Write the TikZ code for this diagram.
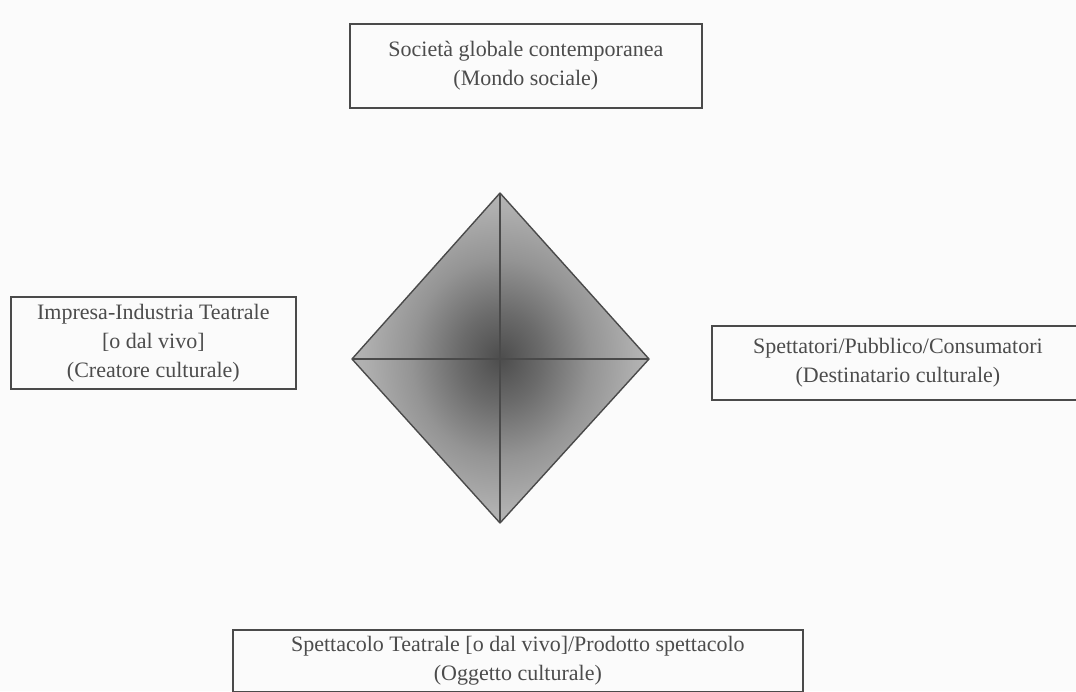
\documentclass[tikz,border=0pt]{standalone}
\usepackage{fontspec}
\setmainfont{Liberation Serif}
\pgfdeclareradialshading{diamondshade}{\pgfpoint{0bp}{0bp}}{%
  color(0bp)=(black!70);
  color(7bp)=(black!58);
  color(15bp)=(black!42);
  color(23bp)=(black!31);
  color(32bp)=(black!24);
  color(50bp)=(black!20)}
\definecolor{txt}{HTML}{4C4C4C}
\definecolor{ln}{HTML}{4A4A4A}
\definecolor{bg}{HTML}{FBFBFB}
\tikzset{
  lbl/.style={draw=ln, line width=1.7pt, text=txt, align=center, inner sep=0pt,
    font=\fontsize{22}{29}\selectfont, anchor=north west},
  edge/.style={draw=ln, line width=1.4pt}
}
\begin{document}
\begin{tikzpicture}[x=1pt,y=-1pt]
  \fill[bg] (0,0) rectangle (1076,691);
  \useasboundingbox (0,0) rectangle (1076,691);
  % boxes
  \node[lbl, minimum width=352pt, minimum height=84pt] (soc) at (349,23)
    {Società globale contemporanea\\(Mondo sociale)};
  \node[lbl, minimum width=285pt, minimum height=92pt] (imp) at (10,296)
    {Impresa-Industria Teatrale\\{[o dal vivo]}\\(Creatore culturale)};
  \node[lbl, minimum width=372pt, minimum height=74pt] (spe) at (711,325)
    {Spettatori/Pubblico/Consumatori\\(Destinatario culturale)};
  \node[lbl, minimum width=570pt, minimum height=62pt] (obj) at (232,629)
    {Spettacolo Teatrale [o dal vivo]/Prodotto spettacolo\\(Oggetto culturale)};
  % diamond
  \coordinate (T) at (500,193);
  \coordinate (L) at (352,359);
  \coordinate (R) at (649,359);
  \coordinate (B) at (500,523);
  \shade[shading=diamondshade] (T) -- (R) -- (B) -- (L) -- cycle;
  \draw[edge, line join=round] (T) -- (R) -- (B) -- (L) -- cycle;
  \draw[edge] (T) -- (B);
  \draw[edge] (L) -- (R);
\end{tikzpicture}
\end{document}
